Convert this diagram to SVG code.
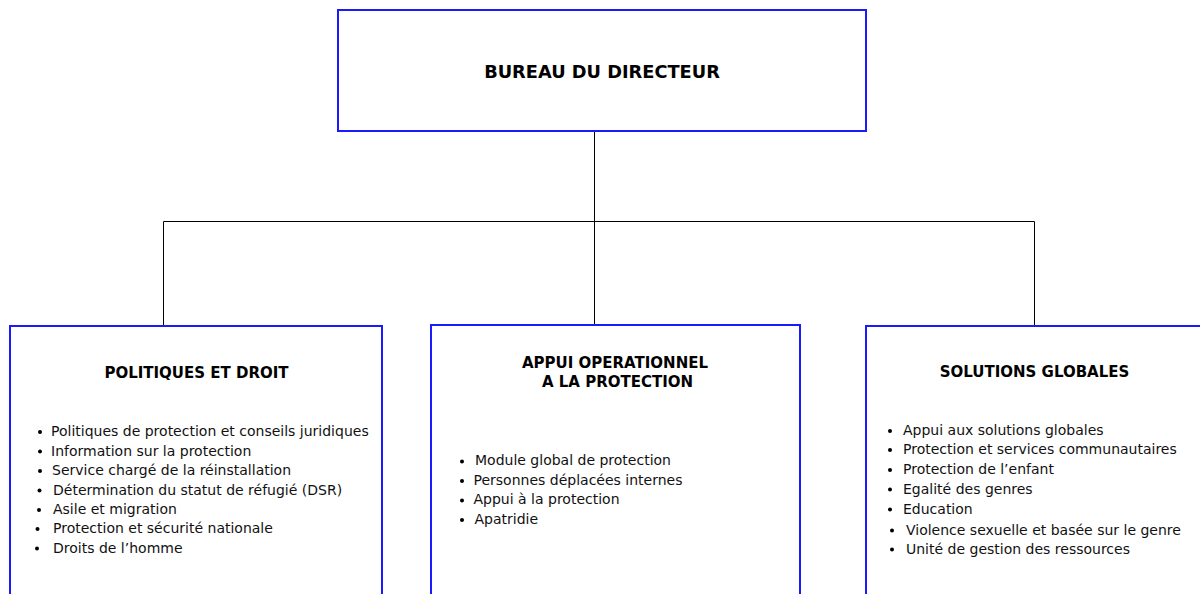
<svg xmlns="http://www.w3.org/2000/svg" width="1200" height="594" viewBox="0 0 1200 594">
  <style>
    .box { fill: #ffffff; stroke: #1a1aff; stroke-width: 2; }
    .link { stroke: #000000; stroke-width: 1; fill: none; }
    .head { font-family: "DejaVu Sans", Verdana, sans-serif; font-weight: bold; fill: #000000; text-anchor: middle; }
    .item { font-family: "DejaVu Sans", Verdana, sans-serif; font-size: 14px; fill: #111111; }
    .dot { fill: #000000; }
  </style>
  <rect width="1200" height="594" fill="#ffffff"/>

  <!-- connectors -->
  <g id="connectors">
    <line class="link" x1="594.5" y1="131" x2="594.5" y2="221.5"/>
    <line class="link" x1="163.5" y1="221.5" x2="1034.5" y2="221.5"/>
    <line class="link" x1="163.5" y1="221.5" x2="163.5" y2="325"/>
    <line class="link" x1="594.5" y1="221.5" x2="594.5" y2="325"/>
    <line class="link" x1="1034.5" y1="221.5" x2="1034.5" y2="325"/>
  </g>

  <!-- top: director's office -->
  <g id="bureau-directeur">
    <rect class="box" x="338" y="10" width="528" height="121"/>
    <text class="head" x="602" y="78" font-size="17.8">BUREAU DU DIRECTEUR</text>
  </g>

  <!-- left: policy and law -->
  <g id="politiques-droit">
    <rect class="box" x="10" y="326" width="372" height="300"/>
    <text class="head" x="196.5" y="378" font-size="15">POLITIQUES ET DROIT</text>
    <g>
      <circle class="dot" cx="40" cy="432" r="2"/>
      <circle class="dot" cx="40" cy="451.5" r="2"/>
      <circle class="dot" cx="40" cy="471" r="2"/>
      <circle class="dot" cx="39.5" cy="490.5" r="2"/>
      <circle class="dot" cx="39" cy="510" r="2"/>
      <circle class="dot" cx="37.5" cy="529" r="2"/>
      <circle class="dot" cx="37" cy="548.5" r="2"/>
    </g>
    <text class="item" x="51" y="436">Politiques de protection et conseils juridiques</text>
    <text class="item" x="51" y="455.5">Information sur la protection</text>
    <text class="item" x="52" y="475">Service chargé de la réinstallation</text>
    <text class="item" x="53" y="494.5">Détermination du statut de réfugié (DSR)</text>
    <text class="item" x="53" y="514">Asile et migration</text>
    <text class="item" x="53" y="533">Protection et sécurité nationale</text>
    <text class="item" x="53" y="552.5">Droits de l’homme</text>
  </g>

  <!-- middle: operational support to protection -->
  <g id="appui-operationnel">
    <rect class="box" x="431" y="325" width="369" height="300"/>
    <text class="head" x="615" y="368" font-size="15">APPUI OPERATIONNEL</text>
    <text class="head" x="617.5" y="387" font-size="15">A LA PROTECTION</text>
    <g>
      <circle class="dot" cx="462" cy="461.5" r="2"/>
      <circle class="dot" cx="462" cy="481" r="2"/>
      <circle class="dot" cx="462" cy="500.5" r="2"/>
      <circle class="dot" cx="462" cy="520" r="2"/>
    </g>
    <text class="item" x="475" y="465">Module global de protection</text>
    <text class="item" x="473.5" y="484.5">Personnes déplacées internes</text>
    <text class="item" x="473.5" y="504">Appui à la protection</text>
    <text class="item" x="474.5" y="523.5">Apatridie</text>
  </g>

  <!-- right: global solutions -->
  <g id="solutions-globales">
    <rect class="box" x="866" y="326" width="360" height="300"/>
    <text class="head" x="1034.5" y="377" font-size="15">SOLUTIONS GLOBALES</text>
    <g>
      <circle class="dot" cx="890" cy="431" r="2"/>
      <circle class="dot" cx="890" cy="450" r="2"/>
      <circle class="dot" cx="890" cy="470" r="2"/>
      <circle class="dot" cx="890" cy="489.5" r="2"/>
      <circle class="dot" cx="890" cy="509.5" r="2"/>
      <circle class="dot" cx="892" cy="530.5" r="2"/>
      <circle class="dot" cx="892" cy="549.5" r="2"/>
    </g>
    <text class="item" x="903" y="435">Appui aux solutions globales</text>
    <text class="item" x="903" y="454">Protection et services communautaires</text>
    <text class="item" x="903" y="474">Protection de l’enfant</text>
    <text class="item" x="903" y="493.5">Egalité des genres</text>
    <text class="item" x="903" y="513.5">Education</text>
    <text class="item" x="906" y="534.5">Violence sexuelle et basée sur le genre</text>
    <text class="item" x="906" y="553.5">Unité de gestion des ressources</text>
  </g>
</svg>
